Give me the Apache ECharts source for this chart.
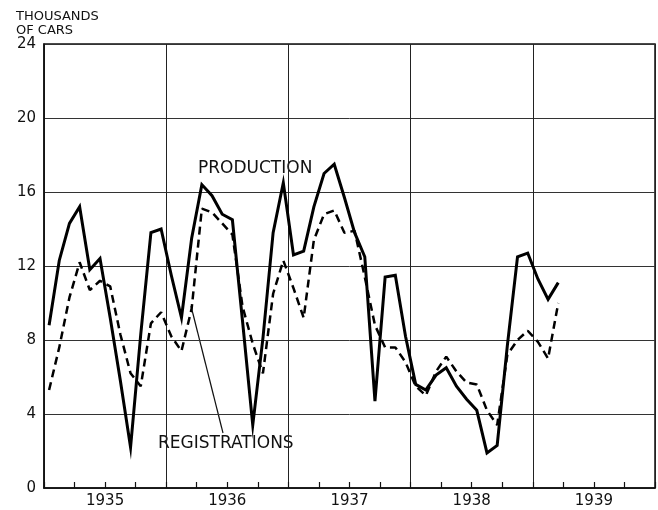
<!DOCTYPE html>
<html>
<head>
<meta charset="utf-8">
<script src="https://cdn.jsdelivr.net/npm/echarts@6/dist/echarts.min.js"></script>
<style>
  html, body { margin: 0; padding: 0; background: #fff; }
  #chart { width: 658px; height: 510px; }
</style>
</head>
<body>
<div id="chart"></div>
<script>
// years shown on the axis, one band each
const years = ['1935', '1936', '1937', '1938', '1939'];
const monthNames = ['Jan', 'Feb', 'Mar', 'Apr', 'May', 'Jun', 'Jul', 'Aug', 'Sep', 'Oct', 'Nov', 'Dec'];
const yTicks = [0, 4, 8, 12, 16, 20, 24];

// thousands of cars, monthly, Jan 1935 - Mar 1939
const production = [
  8.8, 12.3, 14.3, 15.2, 11.8, 12.4, 9.2, 5.8, 2.2, 8.3, 13.8, 14.0,
  11.5, 9.2, 13.5, 16.4, 15.8, 14.8, 14.5, 9.0, 3.4, 8.1, 13.8, 16.5,
  12.6, 12.8, 15.2, 17.0, 17.5, 15.7, 13.8, 12.5, 4.7, 11.4, 11.5, 8.2,
  5.6, 5.3, 6.1, 6.5, 5.5, 4.8, 4.2, 1.9, 2.3, 7.7, 12.5, 12.7,
  11.3, 10.2, 11.1
];
const registrations = [
  5.3, 7.6, 10.3, 12.2, 10.7, 11.2, 10.9, 8.3, 6.2, 5.5, 8.9, 9.5,
  8.2, 7.4, 9.7, 15.1, 14.9, 14.3, 13.7, 9.8, 7.8, 6.2, 10.5, 12.3,
  10.8, 9.2, 13.4, 14.8, 15.0, 13.8, 13.9, 11.4, 8.8, 7.6, 7.6, 6.8,
  5.5, 5.0, 6.3, 7.1, 6.3, 5.7, 5.6, 4.2, 3.4, 7.2, 8.0, 8.5,
  7.9, 7.0, 10.0
];

const months = [];
years.forEach((y) => {
  monthNames.forEach((m) => months.push(`${m} ${y}`));
});

const font = 'DejaVu Sans';
const chart = echarts.init(document.getElementById('chart'));

const option = {
  animation: false,
  backgroundColor: '#fff',
  title: {
    text: 'THOUSANDS\nOF CARS',
    left: 11,
    top: 5,
    textStyle: {
      fontFamily: font,
      fontSize: 13,
      fontWeight: 'normal',
      color: '#111',
      lineHeight: 14,
    },
  },
  grid: {
    left: 44,
    right: 3,
    top: 44,
    bottom: 22,
    show: true,
    borderColor: '#111',
    borderWidth: 1.5,
  },
  xAxis: [
    {
      // year bands: labels centred, split lines at year boundaries
      type: 'category',
      data: years,
      boundaryGap: true,
      position: 'bottom',
      axisLine: { show: true, lineStyle: { color: '#111', width: 1.5 } },
      axisTick: { show: false },
      axisLabel: {
        fontFamily: font,
        fontSize: 15,
        color: '#111',
        margin: 6,
      },
      splitLine: { show: true, lineStyle: { color: '#222', width: 1 } },
    },
    {
      // monthly axis for the data, quarterly ticks
      type: 'category',
      data: months,
      boundaryGap: true,
      position: 'bottom',
      axisLine: { show: false },
      axisTick: {
        show: true,
        inside: true,
        interval: 2,
        length: 6,
        lineStyle: { color: '#111', width: 1.2 },
      },
      axisLabel: { show: false },
      splitLine: { show: false },
    },
  ],
  yAxis: {
    type: 'value',
    min: yTicks[0],
    max: yTicks[yTicks.length - 1],
    interval: 4,
    axisLine: { show: true, lineStyle: { color: '#111', width: 1.5 } },
    axisTick: { show: false },
    axisLabel: {
      fontFamily: font,
      fontSize: 15,
      color: '#111',
      margin: 8,
      verticalAlign: 'middle',
      padding: [3, 0, 0, 0],
    },
    splitLine: { show: true, lineStyle: { color: '#333', width: 1 } },
  },
  series: [
    {
      name: 'PRODUCTION',
      type: 'line',
      xAxisIndex: 1,
      data: production,
      symbol: 'none',
      lineStyle: { color: '#000', width: 3, join: 'miter' },
      z: 3,
    },
    {
      name: 'REGISTRATIONS',
      type: 'line',
      xAxisIndex: 1,
      data: registrations,
      symbol: 'none',
      lineStyle: { color: '#000', width: 2.5, type: [8, 5] },
      z: 2,
    },
  ],
  graphic: [
    {
      type: 'text',
      left: 198,
      top: 160,
      style: { text: 'PRODUCTION', fontFamily: font, fontSize: 17, fill: '#111' },
    },
    {
      type: 'text',
      left: 158,
      top: 435,
      style: { text: 'REGISTRATIONS', fontFamily: font, fontSize: 17, fill: '#111' },
    },
    {
      type: 'line',
      shape: { x1: 223, y1: 433, x2: 191, y2: 306 },
      style: { stroke: '#111', lineWidth: 1.2 },
    },
  ],
};

chart.setOption(option);
</script>
</body>
</html>
